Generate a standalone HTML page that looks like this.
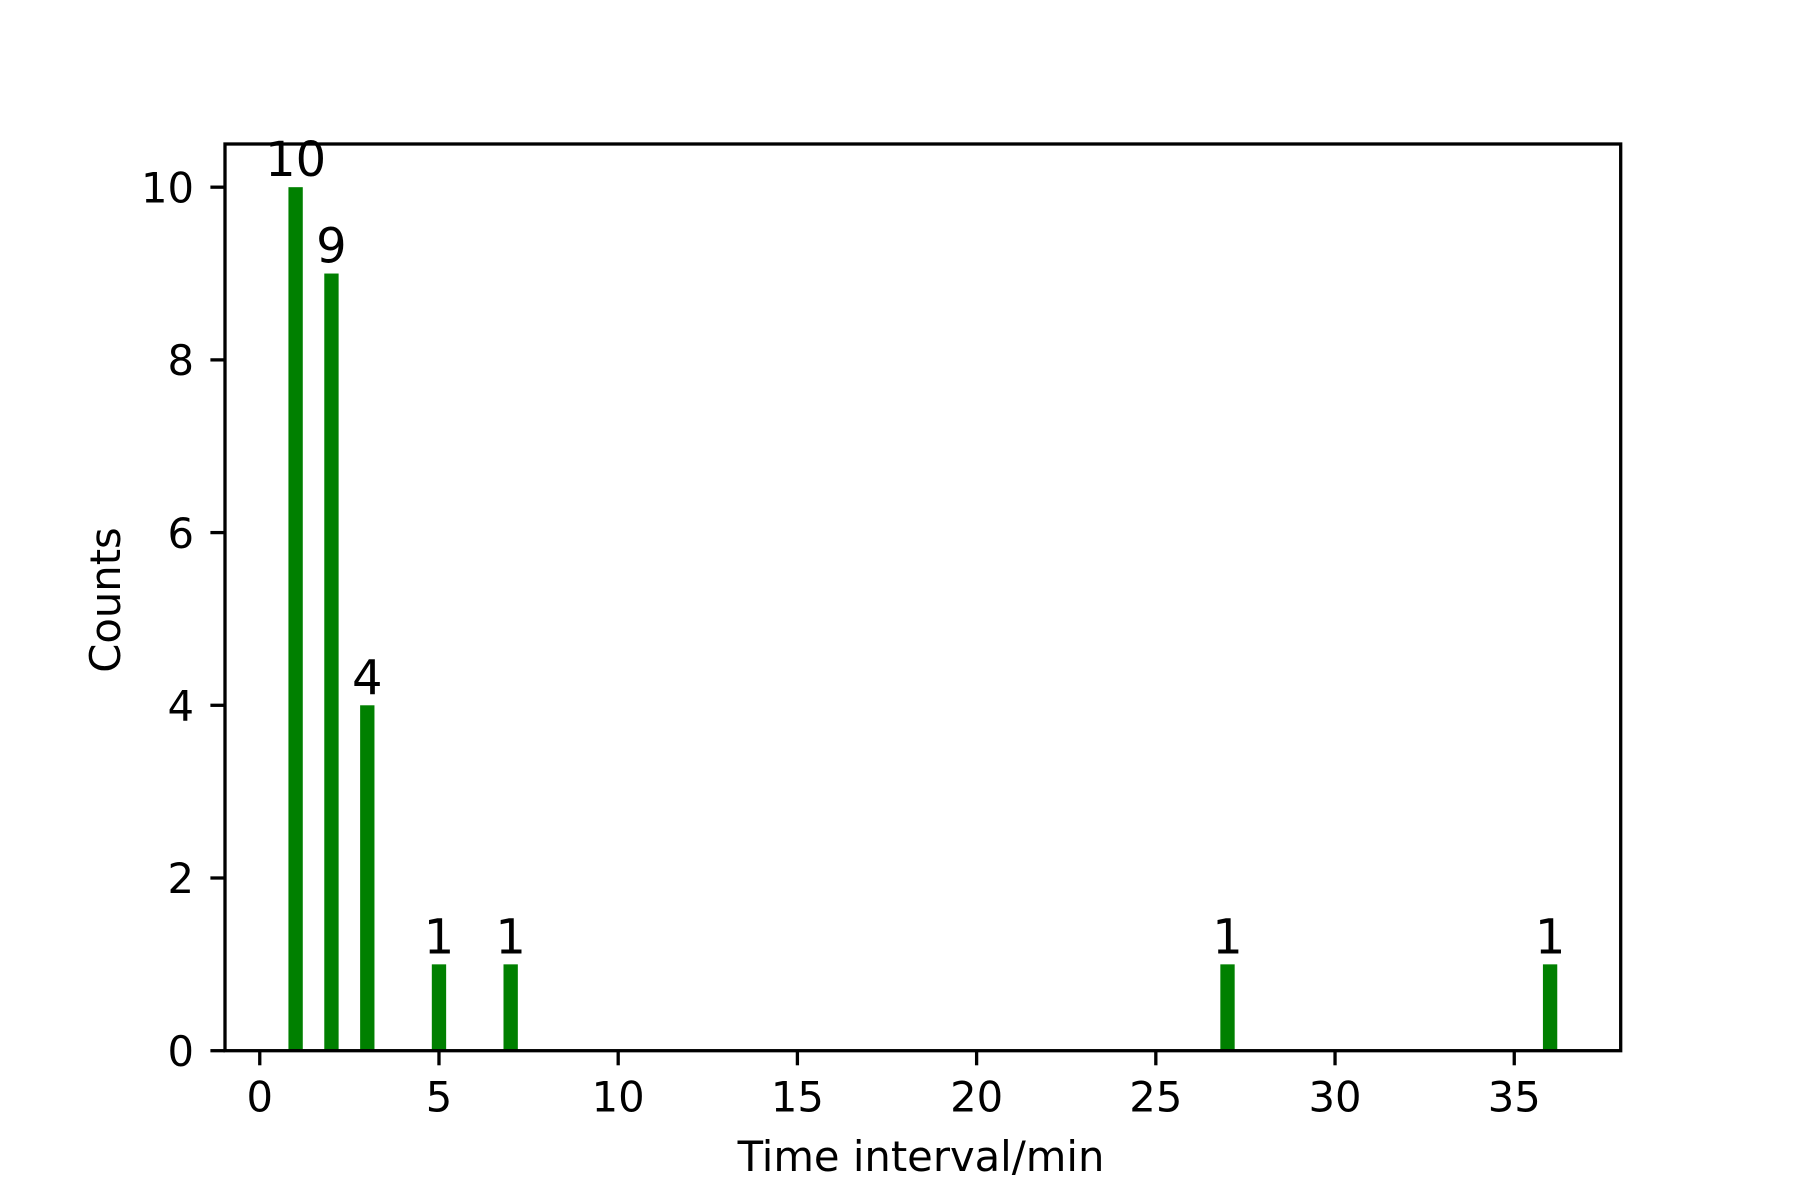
<!DOCTYPE html>
<html><head><meta charset="utf-8"><style>
html,body{margin:0;padding:0;background:#fff;}
svg{display:block;font-family:"DejaVu Sans","Liberation Sans",sans-serif;}
</style></head><body>
<svg id="chart" width="1800" height="1200" viewBox="0 0 1800 1200">
<rect x="0" y="0" width="1800" height="1200" fill="#fff"/>
<g id="bars"></g>
<g id="labels"></g>
<g id="xticks"></g>
<g id="yticks"></g>
<rect x="225" y="144" width="1395.7" height="906.7" fill="none" stroke="#000" stroke-width="3.3"/>
<text x="921" y="1171" font-size="41.7" text-anchor="middle">Time interval/min</text>
<text transform="translate(120,600) rotate(-90)" font-size="41.7" text-anchor="middle">Counts</text>
</svg>
<script>
const intervals = [1, 2, 3, 5, 7, 27, 36];
const counts = [10, 9, 4, 1, 1, 1, 1];
const xTickValues = [0, 5, 10, 15, 20, 25, 30, 35];
const yTickValues = [0, 2, 4, 6, 8, 10];

const X0 = 225, X1 = 1620.7, Y0 = 1050.7, Y1 = 144;
const xMin = -0.97, xMax = 37.97, yMin = 0, yMax = 10.5;
function xs(v){ return X0 + (v - xMin) / (xMax - xMin) * (X1 - X0); }
function ys(v){ return Y0 - (v - yMin) / (yMax - yMin) * (Y0 - Y1); }
const NS = "http://www.w3.org/2000/svg";
const barW = 0.4;
const gb = document.getElementById('bars'), gl = document.getElementById('labels');
intervals.forEach((t, i) => {
  const r = document.createElementNS(NS, 'rect');
  const xl = xs(t - barW/2), xr = xs(t + barW/2);
  r.setAttribute('x', xl); r.setAttribute('width', xr - xl);
  r.setAttribute('y', ys(counts[i])); r.setAttribute('height', ys(0) - ys(counts[i]));
  r.setAttribute('fill', '#008000');
  
  
  gb.appendChild(r);
  const tx = document.createElementNS(NS, 'text');
  tx.setAttribute('x', xs(t)); tx.setAttribute('y', ys(counts[i]) - 11);
  tx.setAttribute('font-size', '48'); tx.setAttribute('text-anchor', 'middle');
  tx.textContent = counts[i];
  
  
  gl.appendChild(tx);
});
const gx = document.getElementById('xticks');
xTickValues.forEach(v => {
  const l = document.createElementNS(NS, 'line');
  l.setAttribute('x1', xs(v)); l.setAttribute('x2', xs(v));
  l.setAttribute('y1', Y0); l.setAttribute('y2', Y0 + 14.6);
  l.setAttribute('stroke', '#000'); l.setAttribute('stroke-width', '3.3');
  
  
  gx.appendChild(l);
  const tx = document.createElementNS(NS, 'text');
  tx.setAttribute('x', xs(v)); tx.setAttribute('y', 1111.5);
  tx.setAttribute('font-size', '41.7'); tx.setAttribute('text-anchor', 'middle');
  tx.textContent = v;
  
  
  gx.appendChild(tx);
});
const gy = document.getElementById('yticks');
yTickValues.forEach(v => {
  const l = document.createElementNS(NS, 'line');
  l.setAttribute('x1', X0 - 14.6); l.setAttribute('x2', X0);
  l.setAttribute('y1', ys(v)); l.setAttribute('y2', ys(v));
  l.setAttribute('stroke', '#000'); l.setAttribute('stroke-width', '3.3');
  
  
  gy.appendChild(l);
  const tx = document.createElementNS(NS, 'text');
  tx.setAttribute('x', 194); tx.setAttribute('y', ys(v) + 15.2);
  tx.setAttribute('font-size', '41.7'); tx.setAttribute('text-anchor', 'end');
  tx.textContent = v;
  
  
  gy.appendChild(tx);
});
</script>
</body></html>
